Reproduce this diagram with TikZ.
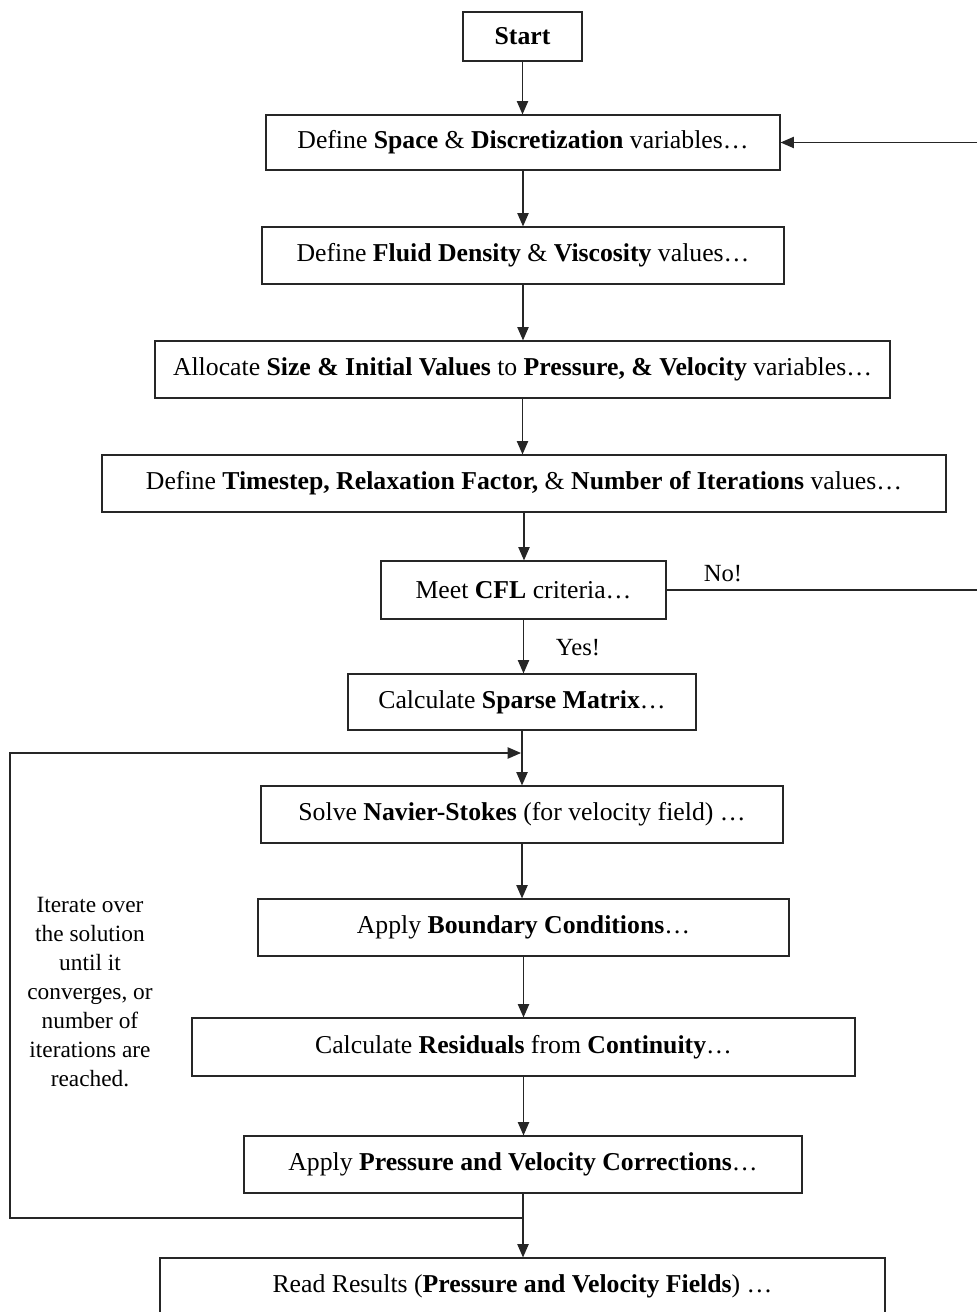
\documentclass[tikz,border=0pt]{standalone}
\usepackage{fontspec}
\setmainfont{Liberation Serif}
\usetikzlibrary{arrows.meta}
\tikzset{
  box/.style={draw=black!85, line width=0.9pt, rectangle, inner sep=0pt, font=\fontsize{19.3}{22}\selectfont},
  conn/.style={draw=black!85, line width=0.85pt},
  arr/.style={conn, -{Triangle[length=10pt,width=8.5pt]}},
  lbl/.style={font=\fontsize{18.5}{22}\selectfont, inner sep=0pt}
}
\begin{document}
\begin{tikzpicture}[x=0.75pt,y=-0.75pt]
\clip (0,0) rectangle (977,1312);
\fill[white] (0,0) rectangle (977,1312);
\node[box, minimum width=89.25pt, minimum height=36.75pt] (start) at (522.5,36.5) {\textbf{Start}};
\node[box, minimum width=385.5pt, minimum height=41.25pt] (space) at (523,142.5) {Define \textbf{Space} \& \textbf{Discretization} variables…};
\node[box, minimum width=391.5pt, minimum height=42.75pt] (fluid) at (523,255.5) {Define \textbf{Fluid Density} \& \textbf{Viscosity} values…};
\node[box, minimum width=551.25pt, minimum height=42.75pt] (alloc) at (522.5,369.5) {Allocate \textbf{Size \& Initial Values} to \textbf{Pressure, \&} \textbf{Velocity} variables…};
\node[box, minimum width=633pt, minimum height=42.75pt] (time) at (524,483.5) {Define \textbf{Timestep, Relaxation Factor,} \& \textbf{Number of Iterations} values…};
\node[box, minimum width=213.75pt, minimum height=43.5pt] (cfl) at (523.5,590) {Meet \textbf{CFL} criteria…};
\node[box, minimum width=261pt, minimum height=42pt] (sparse) at (522,702) {Calculate \textbf{Sparse Matrix}…};
\node[box, minimum width=391.5pt, minimum height=42.75pt] (navier) at (522,814.5) {Solve \textbf{Navier-Stokes} (for velocity field) …};
\node[box, minimum width=398.25pt, minimum height=42.75pt] (bc) at (523.5,927.5) {Apply \textbf{Boundary Conditions}…};
\node[box, minimum width=497.25pt, minimum height=43.5pt] (resid) at (523.5,1047) {Calculate \textbf{Residuals} from \textbf{Continuity}…};
\node[box, minimum width=418.5pt, minimum height=42.75pt] (pcorr) at (523,1164.5) {Apply \textbf{Pressure and Velocity Corrections}…};
\node[box, minimum width=543.75pt, minimum height=42.75pt] (read) at (522.5,1286.5) {Read Results (\textbf{Pressure and Velocity Fields}) …};

\draw[arr] (start.south) -- (start.south |- space.north);
\draw[arr] (space.south) -- (space.south |- fluid.north);
\draw[arr] (fluid.south) -- (fluid.south |- alloc.north);
\draw[arr] (alloc.south) -- (alloc.south |- time.north);
\draw[arr] (time.south) -- (time.south |- cfl.north);
\draw[arr] (cfl.south) -- (cfl.south |- sparse.north);
\node[lbl] (yes) at (578,648) {Yes!};
\draw[arr] (sparse.south) -- (sparse.south |- navier.north);
\draw[arr] (navier.south) -- (navier.south |- bc.north);
\draw[arr] (bc.south) -- (bc.south |- resid.north);
\draw[arr] (resid.south) -- (resid.south |- pcorr.north);
\draw[arr] (pcorr.south) -- (pcorr.south |- read.north);

\coordinate (rtop) at (977,142.5);
\coordinate (rcfl) at (977,590);
\draw[arr] (rtop) -- (space.east);
\draw[conn] (cfl.east) -- (rcfl);
\node[lbl] (no) at (723,574) {No!};

\coordinate (jb) at (522,1218);
\coordinate (lb) at (10,1218);
\coordinate (lt) at (10,753);
\coordinate (jt) at (521,753);
\draw[arr] (jb) -- (lb) -- (lt) -- (jt);
\node[lbl, align=center, font=\fontsize{17.5}{21.75}\selectfont] (iter) at (90,992) {Iterate over\\the solution\\until it\\converges, or\\number of\\iterations are\\reached.};
\end{tikzpicture}
\end{document}
